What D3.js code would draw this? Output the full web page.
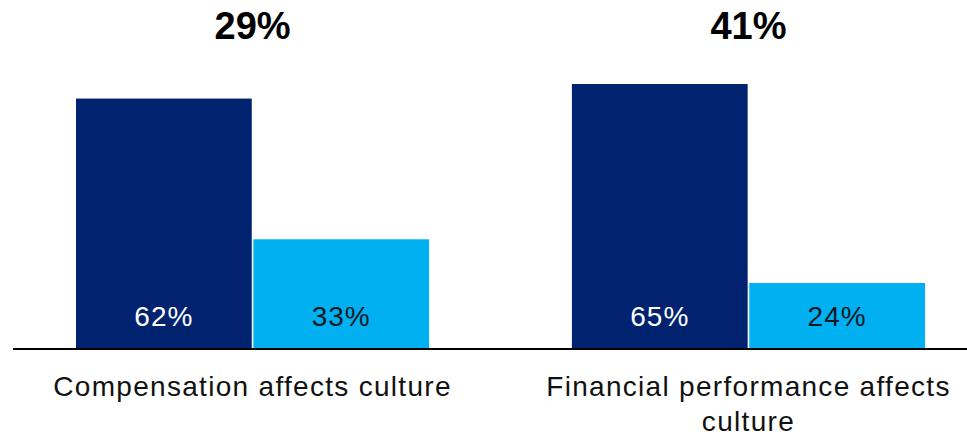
<!DOCTYPE html>
<html>
<head>
<meta charset="utf-8">
<script src="https://cdn.jsdelivr.net/npm/d3@7"></script>
<style>
  body { margin: 0; background: #fff; }
  svg { display: block; font-family: "Liberation Sans", Arial, sans-serif; }
</style>
</head>
<body>
<div id="chart"></div>
<script>
// Daten
const categories = ["Compensation affects culture", "Financial performance affects culture"];
const series = ["dark", "light"];
const darkValues = [62, 65];
const lightValues = [33, 24];
const gapLabels = ["29%", "41%"];

const width = 967;
const height = 436;
const baseY = 348;

const svg = d3.select("#chart")
  .append("svg")
  .attr("width", width)
  .attr("height", height);

const x = d3.scaleBand()
  .domain(categories)
  .range([76, 925])
  .paddingInner(0.288)
  .paddingOuter(0);

const xSub = d3.scaleBand()
  .domain(series)
  .range([0, x.bandwidth()])
  .paddingInner(0.009);

// Achse startet nicht bei 0
const y = d3.scaleLinear()
  .domain([10.6, 65])
  .range([baseY, 84]);

const colors = { dark: "#00226f", light: "#00b0f0" };
const textColors = { dark: "#ffffff", light: "#0d1a26" };

const rows = categories.map((c, i) => ({
  cat: c,
  gap: gapLabels[i],
  bars: [
    { key: "dark", value: darkValues[i] },
    { key: "light", value: lightValues[i] }
  ]
}));

const groups = svg.selectAll("g.group")
  .data(rows)
  .join("g")
  .attr("class", "group")
  .attr("transform", d => `translate(${x(d.cat)},0)`);

// Balken
groups.selectAll("rect")
  .data(d => d.bars)
  .join("rect")
  .attr("x", d => xSub(d.key))
  .attr("y", d => y(d.value))
  .attr("width", xSub.bandwidth())
  .attr("height", d => y.range()[0] - y(d.value))
  .attr("fill", d => colors[d.key]);

// Werte in den Balken
groups.selectAll("text.val")
  .data(d => d.bars)
  .join("text")
  .attr("class", "val")
  .attr("x", d => xSub(d.key) + xSub.bandwidth() / 2)
  .attr("y", baseY - 22)
  .attr("text-anchor", "middle")
  .attr("fill", d => textColors[d.key])
  .style("font-size", "28px")
  .style("letter-spacing", "1px")
  .text(d => d.value + "%");

// Differenz oben
groups.append("text")
  .attr("x", x.bandwidth() / 2)
  .attr("y", 39)
  .attr("text-anchor", "middle")
  .attr("fill", "#000")
  .style("font-size", "38px")
  .style("font-weight", "bold")
  .text(d => d.gap);

// Grundlinie
svg.append("line")
  .attr("x1", 13)
  .attr("x2", width)
  .attr("y1", y(10.6) + 1)
  .attr("y2", y(10.6) + 1)
  .attr("stroke", "#000")
  .attr("stroke-width", 2);

// Kategorien mit Umbruch
groups.append("text")
  .attr("class", "cat")
  .attr("x", x.bandwidth() / 2)
  .attr("y", 396)
  .attr("text-anchor", "middle")
  .attr("fill", "#111")
  .style("font-size", "28px")
  .style("letter-spacing", "1.3px")
  .each(function(d) {
    const t = d3.select(this);
    const words = d.cat.split(" ");
    let line = [];
    let tspan = t.append("tspan").attr("x", x.bandwidth() / 2).attr("dy", 0);
    words.forEach(w => {
      line.push(w);
      tspan.text(line.join(" "));
      if (tspan.node().getComputedTextLength() > 440 && line.length > 1) {
        line.pop();
        tspan.text(line.join(" "));
        line = [w];
        tspan = t.append("tspan").attr("x", x.bandwidth() / 2).attr("dy", 35).text(w);
      }
    });
  });
</script>
</body>
</html>
